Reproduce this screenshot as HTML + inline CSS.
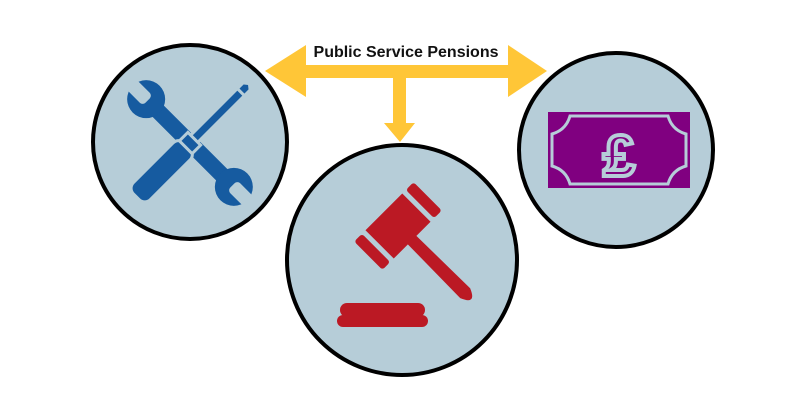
<!DOCTYPE html>
<html><head><style>
html,body{margin:0;padding:0;background:#fff;width:800px;height:400px;overflow:hidden}
svg{display:block}
</style></head><body>
<svg width="800" height="400" viewBox="0 0 800 400">
<!-- arrows -->
<polygon points="265,71 306,45 306,65 508,65 508,45 547,71 508,97 508,78 406,78 406,123 415,123 400,142 384,123 393,123 393,78 306,78 306,97" fill="#FFC637"/>
<rect x="306" y="40" width="202" height="25" fill="#fff"/>
<text x="406" y="57" text-anchor="middle" font-family="Liberation Sans, sans-serif" font-weight="bold" font-size="16" fill="#111">Public Service Pensions</text>
<!-- circles -->
<circle cx="190" cy="142" r="97" fill="#B6CDD8" stroke="#000" stroke-width="4"/>
<circle cx="402" cy="260" r="115" fill="#B6CDD8" stroke="#000" stroke-width="4"/>
<circle cx="616" cy="150" r="97" fill="#B6CDD8" stroke="#000" stroke-width="4"/>
<!-- wrench -->
<g transform="translate(190,143) rotate(-45)">
 <rect x="-8" y="-55" width="16" height="110" fill="#165BA0"/>
 <circle cx="0" cy="-62" r="19" fill="#165BA0"/>
 <circle cx="0" cy="62" r="19" fill="#165BA0"/>
 <rect x="-7" y="-84" width="14" height="24" rx="4" fill="#B6CDD8"/>
 <rect x="-7" y="60" width="14" height="24" rx="4" fill="#B6CDD8"/>
</g>
<!-- screwdriver -->
<g transform="translate(190,143) rotate(45)" fill="#165BA0" stroke="#B6CDD8" stroke-width="3">
 <rect x="-5" y="-72" width="10" height="68"/>
 <path d="M-5,-72 L-5,-80 L0,-84 L5,-80 L5,-72Z"/>
 <rect x="-12" y="4" width="24" height="72" rx="8"/>
 <rect x="-9" y="-6" width="18" height="12"/>
</g>
<!-- gavel -->
<g fill="#BB1924" transform="translate(398,226) rotate(45)">
 <rect x="-20" y="-26" width="40" height="52"/>
 <rect x="-20" y="-42" width="40" height="11" rx="3"/>
 <rect x="-20" y="31" width="40" height="11" rx="3"/>
 <path d="M18,-6 L95,-7 Q112,0 95,7 L18,6 Z"/>
</g>
<g fill="#BB1924">
 <rect x="340" y="303" width="85" height="14" rx="7"/>
 <rect x="337" y="315" width="91" height="12" rx="6"/>
</g>
<!-- banknote -->
<rect x="548" y="112" width="142" height="76" fill="#800080"/>
<path d="M570,116 L668,116 Q672,130 686,134 L686,166 Q672,170 668,184 L570,184 Q566,170 552,166 L552,134 Q566,130 570,116 Z" fill="none" stroke="#B6CDD8" stroke-width="3"/>
<text x="619" y="176" text-anchor="middle" font-family="Liberation Sans, sans-serif" font-weight="bold" font-size="58" fill="#800080" stroke="#B6CDD8" stroke-width="4">£</text>
</svg>
</body></html>
